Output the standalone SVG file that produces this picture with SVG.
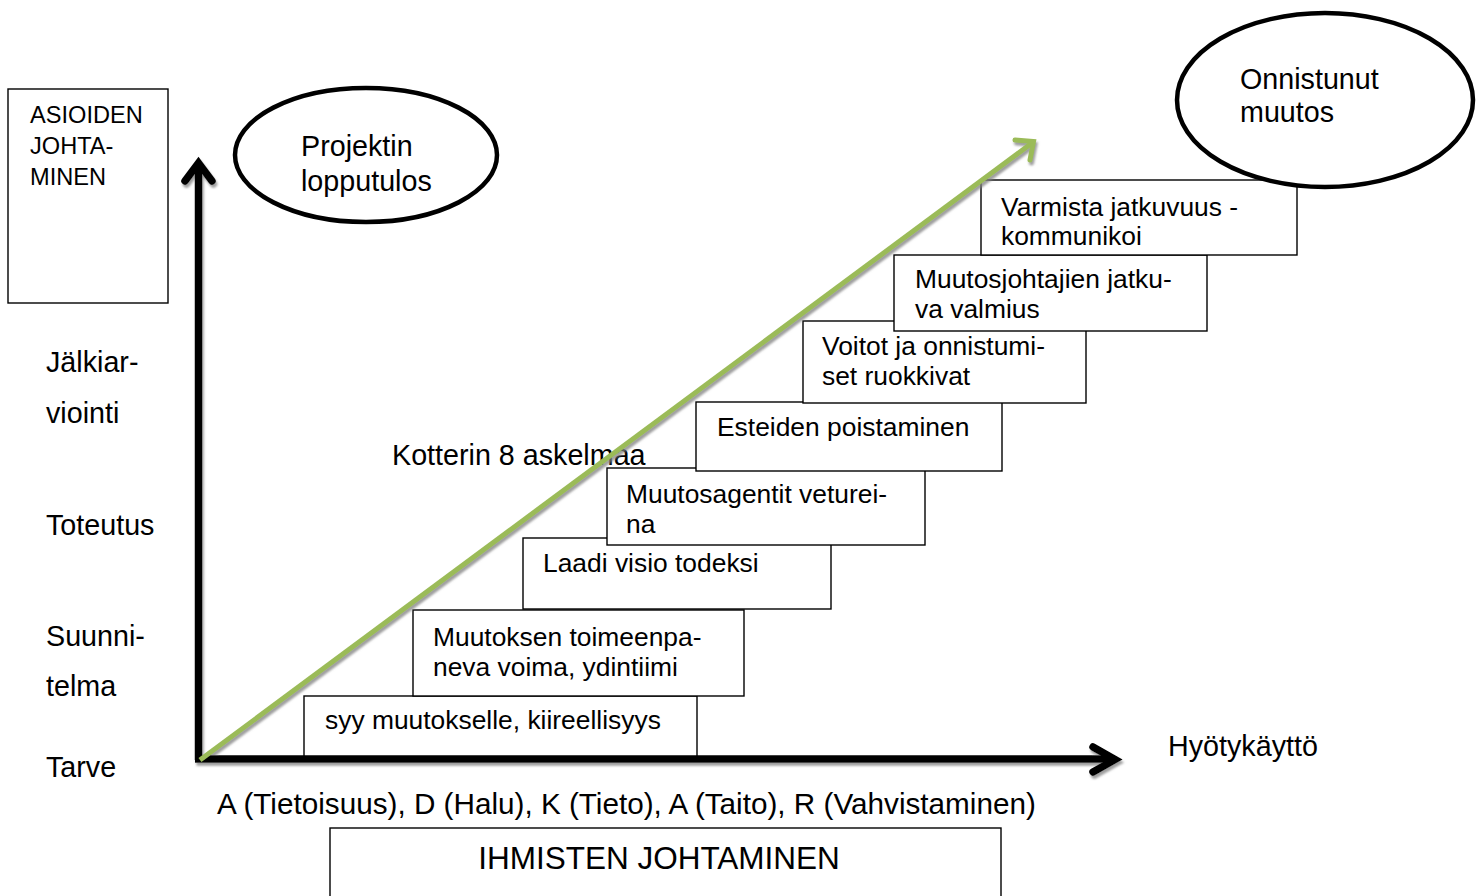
<svg xmlns="http://www.w3.org/2000/svg" width="1480" height="896" viewBox="0 0 1480 896">
  <defs>
    <filter id="shadow" x="-5%" y="-5%" width="110%" height="110%">
      <feDropShadow dx="1.5" dy="3" stdDeviation="1" flood-color="#7f7f7f" flood-opacity="0.75"/>
    </filter>
  </defs>
  <style>
    text { font-family: "Liberation Sans", Arial, sans-serif; fill: #000; }
    .lbl { font-size: 28.7px; }
    .step { font-size: 26.4px; }
    .small { font-size: 23.6px; }
    .box { fill: #fff; stroke: #000; stroke-width: 1.4; }
    .oval { fill: #fff; stroke: #000; stroke-width: 4.5; }
    .axis { fill: none; stroke: #000; stroke-width: 7.5; }
    .trend { fill: none; stroke: #9bbb59; stroke-width: 5; }
  </style>

  <rect width="1480" height="896" fill="#fff"/>

  <!-- side panel: task management -->
  <g id="asioiden-johtaminen">
    <rect class="box" x="8" y="89" width="160" height="214"/>
    <text class="small" x="30" y="123">ASIOIDEN</text>
    <text class="small" x="30" y="154">JOHTA-</text>
    <text class="small" x="30" y="185">MINEN</text>
  </g>

  <!-- project phases along the vertical axis -->
  <g id="phases">
    <text class="lbl" x="46" y="372">Jälkiar-</text>
    <text class="lbl" x="46" y="423">viointi</text>
    <text class="lbl" x="46" y="535">Toteutus</text>
    <text class="lbl" x="46" y="646">Suunni-</text>
    <text class="lbl" x="46" y="696">telma</text>
    <text class="lbl" x="46" y="777">Tarve</text>
  </g>

  <g id="projektin-lopputulos">
    <ellipse class="oval" cx="366" cy="155" rx="131" ry="67"/>
    <rect x="465" y="204" width="4" height="7" fill="#fff"/>
    <text class="lbl" x="301" y="156">Projektin</text>
    <text class="lbl" x="301" y="191">lopputulos</text>
  </g>

  <!-- Kotter's eight steps, lowest first -->
  <g id="step-1">
    <rect class="box" x="304" y="696" width="393" height="64"/>
    <text class="step" x="325" y="729">syy muutokselle, kiireellisyys</text>
  </g>
  <g id="step-2">
    <rect class="box" x="413" y="610" width="331" height="86"/>
    <text class="step" x="433" y="646">Muutoksen toimeenpa-</text>
    <text class="step" x="433" y="676">neva voima, ydintiimi</text>
  </g>
  <g id="step-3">
    <rect class="box" x="523" y="538" width="308" height="71"/>
    <text class="step" x="543" y="572">Laadi visio todeksi</text>
  </g>
  <g id="step-4">
    <rect class="box" x="607" y="468" width="318" height="77"/>
    <text class="step" x="626" y="503">Muutosagentit veturei-</text>
    <text class="step" x="626" y="533">na</text>
  </g>
  <g id="step-5">
    <rect class="box" x="696" y="402" width="306" height="69"/>
    <text class="step" x="717" y="436">Esteiden poistaminen</text>
  </g>
  <g id="step-6">
    <rect class="box" x="803" y="321" width="283" height="82"/>
    <text class="step" x="822" y="355">Voitot ja onnistumi-</text>
    <text class="step" x="822" y="385">set ruokkivat</text>
  </g>
  <g id="step-7">
    <rect class="box" x="894" y="255" width="313" height="76"/>
    <text class="step" x="915" y="288">Muutosjohtajien jatku-</text>
    <text class="step" x="915" y="318">va valmius</text>
  </g>
  <g id="step-8">
    <rect class="box" x="981" y="180" width="316" height="75"/>
    <text class="step" x="1001" y="216">Varmista jatkuvuus -</text>
    <text class="step" x="1001" y="245">kommunikoi</text>
  </g>

  <g id="onnistunut-muutos">
    <ellipse class="oval" cx="1325" cy="100" rx="148" ry="87"/>
    <text class="lbl" x="1240" y="89">Onnistunut</text>
    <text class="lbl" x="1240" y="122">muutos</text>
  </g>

  <text id="kotter-title" class="lbl" x="392" y="465">Kotterin 8 askelmaa</text>

  <!-- axes and the rising trend arrow -->
  <g id="connectors" filter="url(#shadow)">
    <path class="axis" d="M198.5,760 V163"/>
    <path class="axis" d="M185,181 L198.5,163 L212,181" stroke-linecap="round" stroke-linejoin="miter"/>
    <path class="axis" d="M195,759 H1115"/>
    <path class="axis" d="M1093,747 L1115,759.5 L1093,772" stroke-linecap="round" stroke-linejoin="miter"/>
    <path class="trend" d="M200,760 L1034,141.5"/>
    <path class="trend" d="M1015,140 L1033.5,141.6 L1030,160" stroke-linecap="round" stroke-linejoin="miter"/>
  </g>

  <text id="hyotykaytto" class="lbl" x="1168" y="756">Hyötykäyttö</text>
  <text id="adkar" class="lbl" x="217" y="814" style="font-size:29.7px">A (Tietoisuus), D (Halu), K (Tieto), A (Taito), R (Vahvistaminen)</text>

  <g id="ihmisten-johtaminen">
    <rect class="box" x="330" y="828" width="671" height="80"/>
    <text x="659" y="869" text-anchor="middle" style="font-size:31.5px">IHMISTEN JOHTAMINEN</text>
  </g>
</svg>
